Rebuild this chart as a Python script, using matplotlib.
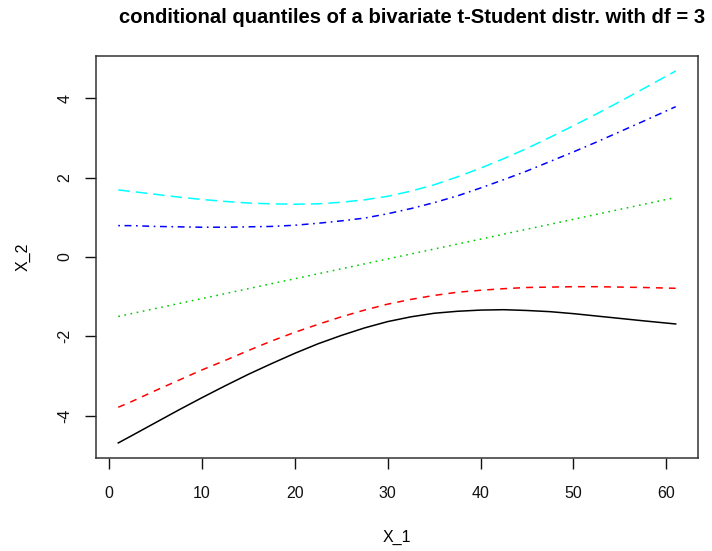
import matplotlib
matplotlib.use("Agg")
import matplotlib.pyplot as plt

plt.rcParams['font.family'] = ['Liberation Sans', 'DejaVu Sans']

# quantile curves of X_2 given X_1
x1 = [1, 2.5, 5, 7.5, 10, 12.5, 15, 17.5, 20, 22.5, 25, 27.5, 30, 32.5,
      35, 37.5, 40, 42.5, 45, 47.5, 50, 52.5, 55, 57.5, 61]
q_low = [-4.69, -4.50, -4.18, -3.86, -3.55, -3.25, -2.96, -2.69, -2.43, -2.19, -1.98, -1.79, -1.63,
         -1.51, -1.42, -1.37, -1.34, -1.33, -1.35, -1.38, -1.43, -1.49, -1.55, -1.61, -1.69]
q_lowmid = [-3.79, -3.64, -3.37, -3.11, -2.85, -2.61, -2.36, -2.12, -1.90, -1.70, -1.51, -1.34, -1.19,
            -1.07, -0.97, -0.89, -0.84, -0.80, -0.77, -0.76, -0.75, -0.75, -0.76, -0.77, -0.79]
q_median = [-1.50, -1.425, -1.30, -1.175, -1.05, -0.925, -0.80, -0.675, -0.55, -0.425, -0.30, -0.175, -0.05,
            0.075, 0.20, 0.325, 0.45, 0.575, 0.70, 0.825, 0.95, 1.075, 1.20, 1.325, 1.50]
q_highmid = [0.79, 0.79, 0.77, 0.76, 0.75, 0.75, 0.76, 0.77, 0.80, 0.85, 0.91, 0.98, 1.09,
             1.22, 1.37, 1.54, 1.74, 1.95, 2.17, 2.41, 2.65, 2.90, 3.16, 3.42, 3.79]
q_high = [1.69, 1.65, 1.58, 1.51, 1.45, 1.40, 1.36, 1.34, 1.33, 1.34, 1.38, 1.44, 1.53,
          1.66, 1.82, 2.02, 2.24, 2.48, 2.74, 3.02, 3.31, 3.61, 3.92, 4.24, 4.69]

xticks = [0, 10, 20, 30, 40, 50, 60]
yticks = [-4, -2, 0, 2, 4]

fig = plt.figure(figsize=(7.12, 5.51), dpi=100)
ax = fig.add_axes([0.1348, 0.1688, 0.8455, 0.7297])

lw = 1.1
ax.plot(x1, q_low, color='black', lw=lw, linestyle='-')
ax.plot(x1, q_lowmid, color='red', lw=lw, linestyle=(0, (4.5, 4)))
ax.plot(x1, q_median, color='#00CD00', lw=lw, linestyle=(0, (1.1, 3.0)))
ax.plot(x1, q_highmid, color='blue', lw=lw, linestyle=(0, (1.1, 3.0, 4.5, 3.0)))
ax.plot(x1, q_high, color='cyan', lw=lw, linestyle=(0, (7.5, 4)))

ax.set_xlim(-1.4, 63.4)
ax.set_ylim(-5.07, 5.07)
ax.set_xticks(xticks)
ax.set_yticks(yticks)
ax.set_yticklabels([str(t) for t in yticks], rotation=90, va='center')
ax.tick_params(axis='x', pad=12)
ax.tick_params(axis='y', pad=9)
ax.tick_params(direction='out', length=8, width=1, labelsize=11.5, colors='#111111')
for s in ax.spines.values():
    s.set_linewidth(1.1)
    s.set_color('#333333')

ax.set_xlabel('X_1', fontsize=11.5, labelpad=21)
ax.set_ylabel('X_2', fontsize=11.5, labelpad=19)
fig.suptitle('conditional quantiles of a bivariate t-Student distr. with df = 3',
             x=0.579, y=0.985, fontsize=14.6, fontweight='bold')

fig.savefig('out.png', dpi=100)
